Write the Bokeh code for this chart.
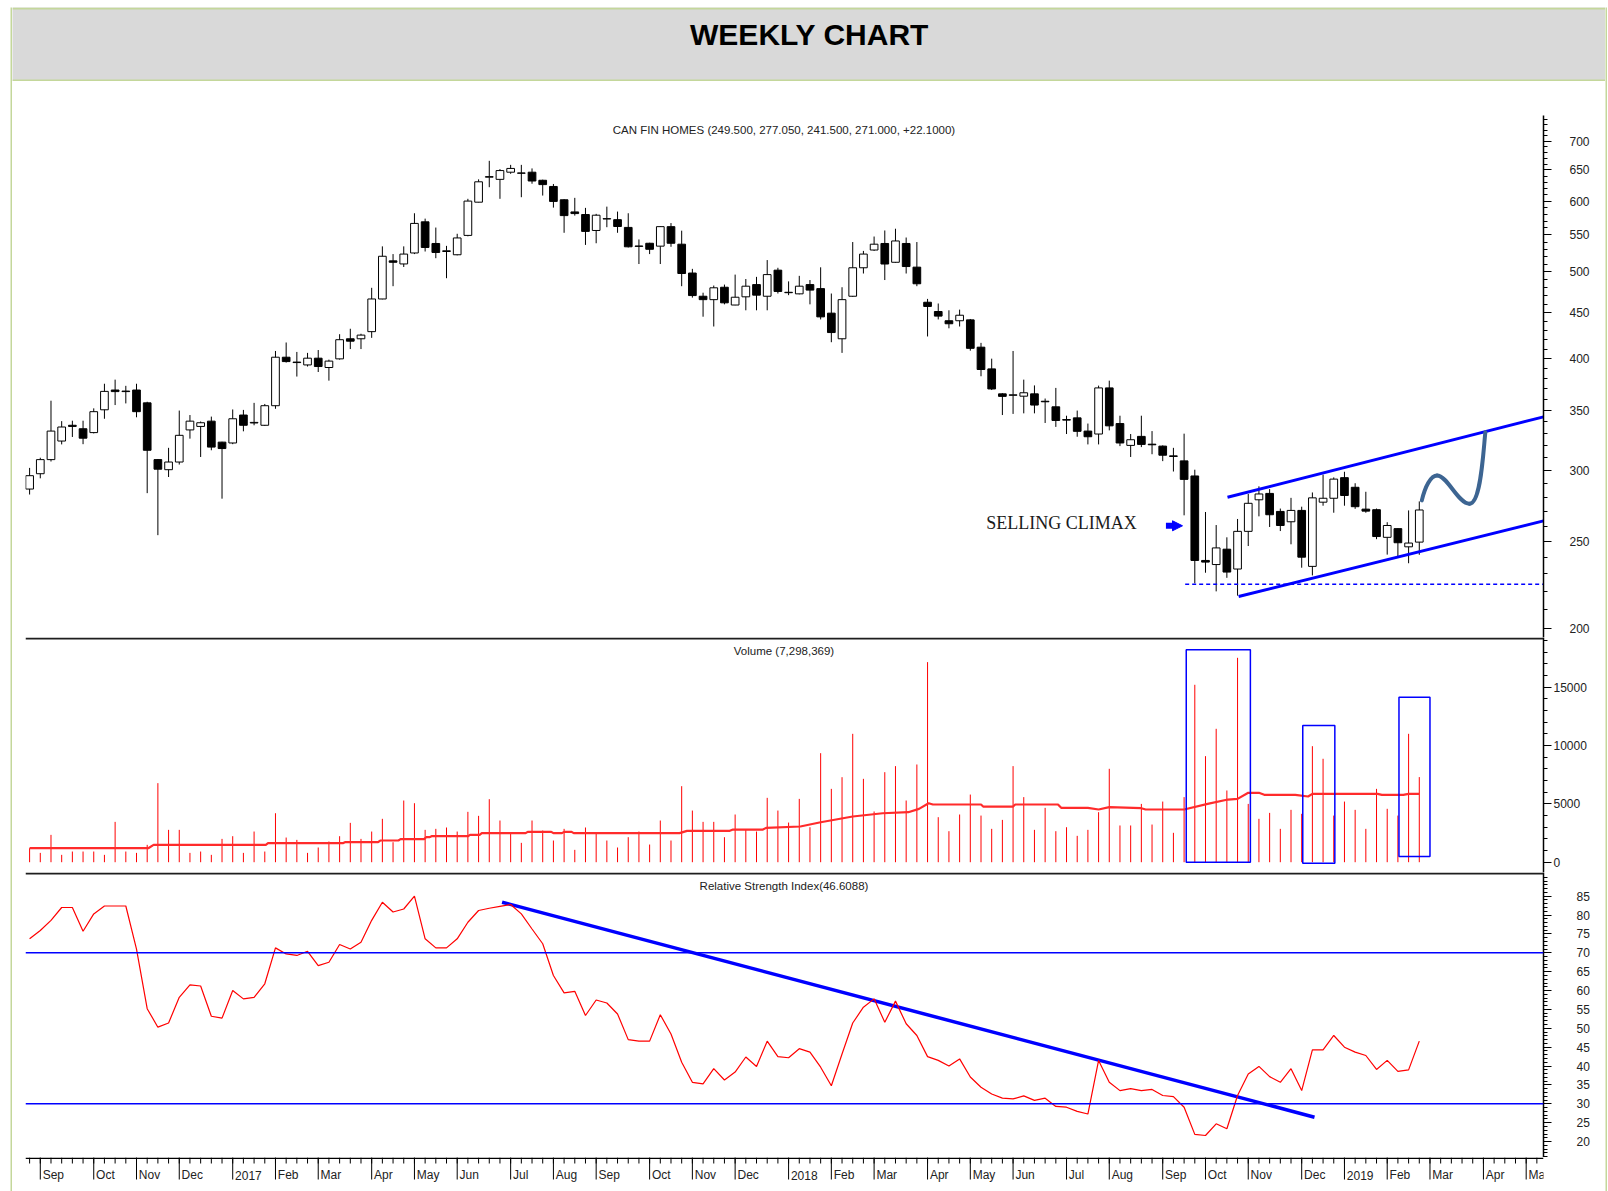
import datetime as dt
from bokeh.plotting import figure
from bokeh.layouts import column, row
from bokeh.models import (Range1d, FixedTicker, NumeralTickFormatter, Span,
                          Arrow, NormalHead, Spacer, ColumnDataSource)
from bokeh.core.properties import value
from bokeh.embed import file_html
from bokeh.resources import INLINE

# ---------------- data (weekly bars, CAN FIN HOMES) ----------------
first_bar = dt.date(2016, 8, 26)      # first weekly bar (Friday)
origin = dt.date(2016, 9, 2)          # week index 0

opens = [286, 297.5, 308.5, 323.6, 337, 334, 330.7, 350.7, 369, 368,
         369, 357, 308.5, 300.6, 306.6, 333, 336, 340.6, 322.7, 322,
         346, 339, 337, 354.4, 401.5, 396.5, 393.6, 400.5, 391, 399.8,
         421, 421, 428.8, 466.4, 514.5, 510.4, 525, 568.8, 538, 527,
         522.6, 549.3, 598.3, 638, 634.5, 646.3, 645, 646.3, 633, 623,
         602, 583.5, 579.6, 556.3, 573, 572, 560.7, 534.5, 538.3, 534.3,
         561.8, 537, 498.6, 469.7, 465.6, 480.7, 459.2, 469, 484, 469.7,
         502.3, 474.5, 472.6, 484, 479, 449.7, 421, 469.7, 505.4, 529,
         538, 512.6, 538, 506.2, 462.5, 451.6, 441, 441, 442, 412,
         389.6, 365.4, 364, 363.2, 365.4, 358.5, 353.4, 342, 343.5, 332,
         329.5, 371, 338.5, 320, 327.5, 321, 319.4, 311.5, 307.5, 295.8,
         238, 235.5, 245, 232.8, 256.5, 278.2, 282.8, 270, 262.9, 270.7,
         234.4, 276.5, 279.3, 294.5, 287.3, 271.6, 271.2, 252.6, 258.3, 246.5,
         249.5]
highs = [302, 310, 359, 340.6, 341, 341, 352, 375, 379, 373,
         375, 358, 309, 318, 350, 346, 340.3, 344.6, 323, 351,
         350.6, 357, 356, 408, 417, 407, 406, 409, 399, 426,
         432, 426.5, 480, 534, 523.5, 534, 581.5, 573.5, 560.5, 534.7,
         551.6, 603.5, 634.5, 665.5, 651.5, 658.6, 658.6, 652.6, 634, 627,
         603, 605, 589.6, 580.6, 591.5, 584, 581.5, 543.6, 539, 562,
         567, 556, 504, 474, 482.8, 484, 496.6, 491, 493.7, 515.5,
         505.4, 488, 495, 489.7, 506, 473, 480.7, 540, 527.8, 547.7,
         556.3, 558.8, 546.3, 540, 466.5, 461, 453, 453.8, 443, 416.6,
         400, 366, 408, 379, 373.4, 361, 371, 345.4, 350, 338.5,
         373.2, 378, 345.4, 329.5, 345.4, 332, 320, 318, 329.8, 300.6,
         269.6, 260.7, 252.6, 264.8, 282.4, 288, 286, 272, 279.6, 273.3,
         283.5, 296.8, 294.7, 299, 290.3, 284, 272, 262.6, 258.5, 270.7,
         277.05]
lows = [282, 294, 307, 320.8, 327, 321, 330, 342.7, 355, 356.5,
        344, 283, 254, 295, 304.6, 325.6, 310.6, 316, 279, 321,
        331.8, 337, 336.5, 351.6, 396, 382, 392, 386.5, 378, 399,
        410, 410, 422, 466, 482, 506.4, 523.5, 527, 518, 492,
        521.8, 548, 598, 621.8, 603.5, 643.6, 606, 627.4, 608.6, 590,
        553, 578, 536, 538.3, 561, 553, 532.5, 510.3, 523.5, 510.3,
        533.4, 482, 468, 445.6, 434.5, 460, 459, 453, 453, 453,
        473, 471, 472, 460, 442.5, 417.3, 406, 469, 498, 527.8,
        489.7, 512, 498, 482, 423.5, 442.5, 432.5, 434.5, 408.3, 382.3,
        369, 346, 347, 347.5, 347.5, 339, 335.6, 329.5, 327.2, 320.8,
        320.8, 332.6, 319.4, 310.6, 318.6, 312.8, 307.3, 299.2, 267.3, 224.4,
        230.6, 219.8, 227.6, 217.4, 247, 266.6, 259.4, 256.7, 248.1, 233.6,
        229, 274, 269.1, 274, 271.8, 269.1, 251.4, 241.6, 240.1, 236.3,
        241.5]
closes = [296, 308.5, 332, 335.5, 336, 326, 349, 367.7, 367.5, 367.5,
          349, 316, 301, 306.6, 328.4, 340.6, 339.2, 318.6, 317.4, 342.7,
          337, 339.5, 354.4, 401.5, 397, 396, 400.5, 392, 397.5, 420,
          418.4, 425, 466.4, 520.6, 512.6, 523.5, 566.5, 532.5, 525.7, 528,
          545.7, 600, 630.5, 639, 649, 652.6, 644.6, 631.8, 626, 599.5,
          578, 581, 555, 578.6, 573.5, 562, 533.4, 534, 530, 561.8,
          538.3, 498, 470.5, 465.6, 480, 461.8, 468.5, 482, 471, 496.6,
          475.5, 474, 482, 477.2, 445.4, 427.8, 465.6, 505.4, 523.5, 537,
          510.3, 541.5, 507, 485, 457.5, 446.3, 437.6, 447.3, 410.8, 389,
          370, 363, 364.5, 366.4, 355, 358, 341.2, 341.5, 331.8, 327.2,
          371, 336.5, 322, 324.7, 320.8, 320.5, 312, 311, 293.2, 238,
          237, 245.8, 231, 256.5, 275.7, 282.4, 267.7, 260.4, 270.7, 240,
          279.6, 279.3, 293.4, 281.3, 273.3, 270.2, 253.1, 260.4, 249.1, 248.9,
          271]
volume_k = [1200, 800, 2345, 630, 915, 915, 915, 630, 3460, 915,
            800, 1490, 6780, 2775, 2775, 800, 915, 630, 2000, 2230,
            800, 2630, 915, 4200, 2115, 1915, 800, 1260, 1775, 2230,
            3375, 2000, 2630, 3720, 1715, 5290, 5060, 2775, 2860, 2975,
            2630, 4320, 3975, 5405, 3575, 2430, 1660, 3575, 2715, 1860,
            2860, 1060, 2975, 2430, 1860, 1260, 2145, 2630, 1515, 3575,
            1860, 6520, 4430, 3460, 3460, 2145, 4090, 2775, 2630, 5520,
            4430, 3400, 5430, 3000, 9350, 6290, 7290, 11010, 7150, 4350,
            7720, 8240, 5290, 8380, 17160, 3860, 2660, 4090, 5800, 4000,
            2860, 3630, 8240, 5580, 2775, 4660, 2660, 3000, 2260, 2775,
            4290, 8010, 3150, 3150, 5000, 3230, 5200, 2520, 5580, 15215,
            9095, 11440, 6150, 17530, 5000, 3720, 4230, 2860, 4490, 4150,
            9950, 8870, 4000, 5200, 4490, 2860, 6290, 4580, 4000, 11010,
            7298]
rsi_values = [73.7, 75.9, 78.6, 82, 82, 75.7, 80.3, 82.4, 82.4, 82.4,
              71.0, 55.2, 50.3, 51.4, 58.2, 61.5, 61.2, 53.2, 52.7, 60,
              57.8, 58.2, 61.8, 71.3, 69.7, 69.3, 70.4, 66.6, 67.5, 72.2,
              71.0, 72.8, 78.6, 83.4, 80.8, 81.6, 85, 73.7, 71.3, 71.3,
              73.7, 78.1, 81.2, 81.8, 82.3, 82.8, 80.3, 76.3, 72.4, 64,
              59.4, 59.8, 53.4, 57.5, 56.7, 53.8, 47, 46.6, 46.6, 53.6,
              48.5, 41, 35.7, 35.3, 39.3, 36.3, 38.4, 42.4, 39.9, 46.6,
              42.5, 42.2, 44.6, 43.7, 39.7, 34.8, 43.2, 51.4, 55.6, 57.8,
              51.6, 57.2, 51.2, 48.1, 42.5, 41.5, 40, 41.9, 37.1, 34.4,
              32.6, 31.5, 31.3, 32.1, 30.9, 31.5, 29.3, 29.1, 28.0, 27.3,
              41.5, 35.7, 33.5, 34, 33.5, 33.8, 32.2, 31.9, 29.1, 21.9,
              21.6, 24.7, 23.4, 32.2, 37.9, 39.9, 37.2, 35.7, 39.3, 33.5,
              44.3, 44.3, 48.1, 45, 43.7, 42.8, 39.1, 41.5, 38.6, 39,
              46.6088]
# volume moving average (week index, thousands)
vol_avg_week = [-1, 10.1, 10.6, 21.1, 21.3, 28.3, 28.5, 31.6, 31.8, 33.5,
                33.7, 35.9, 36.1, 36.4, 36.6, 40, 40.2, 41.1, 41.3, 45.4,
                45.6, 47.8, 48, 48.8, 49, 49.7, 49.9, 59.8, 60.5, 64.5,
                64.8, 67.6, 67.9, 71.1, 73, 76, 78.8, 81.2, 82.2, 83.1,
                83.5, 88, 88.2, 91, 91.2, 95.2, 95.5, 98, 99, 100,
                103, 103.4, 107, 109.2, 111.1, 112, 113, 114, 114.5, 117.4,
                118.6, 119, 125.1, 125.5, 127.5, 128, 129]
vol_avg_k = [1200, 1200, 1490, 1490, 1630, 1630, 1715, 1715, 1860, 1860,
             1975, 1975, 2145, 2145, 2230, 2230, 2345, 2345, 2490, 2490,
             2600, 2600, 2490, 2490, 2600, 2600, 2490, 2490, 2690, 2690,
             2800, 2800, 2945, 3060, 3430, 3920, 4200, 4290, 4575, 5060,
             4950, 4950, 4775, 4775, 4950, 4950, 4660, 4660, 4520, 4720,
             4630, 4520, 4520, 5005, 5375, 5430, 5950, 5950, 5780, 5780,
             5635, 5860, 5860, 5780, 5780, 5860, 5860]

price_ticks = [200, 250, 300, 350, 400, 450, 500, 550, 600, 650, 700]
volume_ticks = [0, 5000, 10000, 15000]
rsi_ticks = [20, 25, 30, 35, 40, 45, 50, 55, 60, 65, 70, 75, 80, 85]

price_title = "CAN FIN HOMES (249.500, 277.050, 241.500, 271.000, +22.1000)"
volume_title = "Volume (7,298,369)"
rsi_title = "Relative Strength Index(46.6088)"

# annotations (week index, value)
upper_channel = ([111.06, 140.62], [280.0, 344.4])
lower_channel = ([112.1, 140.62], [216.9, 263.5])
support_line = ([107.1, 140.62], [223.8, 223.8])
rsi_trend = ([43.2, 119.2], [83.4, 26.45])
vol_boxes = dict(left=[107.2, 118.1, 127.1], right=[113.2, 121.1, 130.0],
                 bottom=[0, -86, 489], top=[18216, 11724, 14151])

n = len(closes)
assert len(opens) == n and len(highs) == n and len(lows) == n
assert len(volume_k) == n and len(rsi_values) == n
assert len(vol_avg_week) == len(vol_avg_k)

dates = [first_bar + dt.timedelta(weeks=k) for k in range(n)]
xw = [(d - origin).days / 7.0 for d in dates]

# ---------------- styling ----------------
FONT = "Liberation Sans"
GREEN = "#c4d79b"
BLUE = "#0000ff"
RED = "#ff0000"
INK = "#222222"
SEP = "#1e1e1e"
LEFT, RIGHT, FRAME_W = 13, 62, 1518
xr = Range1d(-1.384, 140.62)


def panel(h, yr, ytype="linear", top=0):
    p = figure(frame_width=FRAME_W, frame_height=h, x_range=xr, y_range=yr,
               y_axis_type=ytype, x_axis_location=None, y_axis_location="right",
               toolbar_location=None, output_backend="svg",
               min_border_left=LEFT, min_border_right=RIGHT,
               min_border_top=top, min_border_bottom=0)
    p.outline_line_color = None
    p.grid.visible = False
    p.background_fill_color = "white"
    p.border_fill_color = "white"
    ax = p.yaxis[0]
    ax.axis_line_color = "black"
    ax.axis_line_width = 1.5
    ax.major_tick_line_color = "black"
    ax.minor_tick_line_color = "black"
    ax.major_tick_in = 0
    ax.major_tick_out = 8
    ax.minor_tick_in = 0
    ax.minor_tick_out = 4
    ax.major_label_text_font = FONT
    ax.major_label_text_font_size = "12px"
    ax.major_label_text_color = INK
    ax.formatter = NumeralTickFormatter(format="0")
    return p


def plain(w, h, bg, xrange=None, yrange=None):
    f = figure(frame_width=w, frame_height=h, x_axis_location=None, y_axis_location=None,
               toolbar_location=None, output_backend="svg",
               min_border_left=0, min_border_right=0, min_border_top=0, min_border_bottom=0,
               x_range=xrange if xrange is not None else Range1d(0, 1),
               y_range=yrange if yrange is not None else Range1d(0, 1))
    f.background_fill_color = bg
    f.border_fill_color = bg
    f.outline_line_color = None
    f.grid.visible = False
    return f


# ---------------- header ----------------
hd = plain(1593, 74, "#d9d9d9", xrange=Range1d(0, 1593), yrange=Range1d(74, 0))
hd.quad(left=[0, 0], right=[1593, 1593], top=[0, 72], bottom=[2, 74],
        fill_color=GREEN, line_color=None)
hd.text(x=[797], y=[27], text=["WEEKLY CHART"], text_font=value(FONT),
        text_font_size="30px", text_font_style="bold", text_color="black",
        text_align="center", text_baseline="middle")

# ---------------- price panel ----------------
pp = panel(522, Range1d(195.2, 747.8), "log", top=34)
pp.yaxis[0].ticker = FixedTicker(ticks=price_ticks, minor_ticks=list(range(190, 750, 10)))
pp.yaxis[0].major_label_standoff = 18

src = ColumnDataSource(dict(
    x=xw, h=highs, l=lows,
    top=[max(o, c) for o, c in zip(opens, closes)],
    bot=[min(o, c) for o, c in zip(opens, closes)],
    fill=["white" if c >= o else "black" for o, c in zip(opens, closes)]))
pp.segment(x0="x", y0="h", x1="x", y1="l", source=src, line_color="black", line_width=1)
pp.vbar(x="x", width=0.72, top="top", bottom="bot", fill_color="fill",
        line_color="black", line_width=1, source=src)

pp.line(upper_channel[0], upper_channel[1], line_color=BLUE, line_width=3)
pp.line(lower_channel[0], lower_channel[1], line_color=BLUE, line_width=3)
pp.line(support_line[0], support_line[1], line_color=BLUE, line_width=1.5, line_dash="4 3")

# projected path
pp.bezier(x0=[129.24, 130.66, 133.71], y0=[277.8, 296.2, 275.4],
          x1=[130.66, 133.71, 135.18], y1=[296.2, 275.4, 331.0],
          cx0=[129.54, 131.63, 134.76], cy0=[287.9, 296.2, 275.8],
          cx1=[130.08, 132.67, 134.97], cy1=[296.2, 274.9, 313.3],
          line_color="#3d6592", line_width=4, line_cap="round")

pp.text(x=[88.5], y=[261.8], text=["SELLING CLIMAX"], text_font=value("Liberation Serif"),
        text_font_size="18px", text_color="#1a1a1a", text_align="left", text_baseline="middle")
pp.add_layout(Arrow(end=NormalHead(size=10, fill_color=BLUE, line_color=BLUE, line_width=1),
                    x_start=105.3, y_start=260.2, x_end=106.85, y_end=260.2,
                    line_color=BLUE, line_width=6))
pp.text(x=[69.57], y=[721], text=[price_title], text_font=value(FONT),
        text_font_size="11.5px", text_color=INK, text_align="center", text_baseline="middle")

# ---------------- volume panel ----------------
pv = panel(235, Range1d(-883, 19271))
pv.yaxis[0].ticker = FixedTicker(ticks=volume_ticks, minor_ticks=list(range(0, 19001, 1000)))
pv.yaxis[0].major_label_standoff = 2
pv.add_layout(Span(location=19185, dimension="width", line_color=SEP, line_width=2))
pv.segment(x0=xw, y0=[0] * n, x1=xw, y1=volume_k, line_color=RED, line_width=1)
pv.line(vol_avg_week, vol_avg_k, line_color="#ff2b2b", line_width=2.2)
pv.quad(left=vol_boxes["left"], right=vol_boxes["right"], bottom=vol_boxes["bottom"],
        top=vol_boxes["top"], fill_color=None, line_color=BLUE, line_width=1.5)
pv.text(x=[69.57], y=[18150], text=[volume_title], text_font=value(FONT),
        text_font_size="11.5px", text_color=INK, text_align="center", text_baseline="middle")

# ---------------- RSI panel ----------------
pr = panel(285, Range1d(15.78, 91.27))
pr.yaxis[0].ticker = FixedTicker(ticks=rsi_ticks, minor_ticks=list(range(16, 91)))
pr.yaxis[0].major_label_standoff = 25
pr.add_layout(Span(location=91.0, dimension="width", line_color=SEP, line_width=2))
pr.add_layout(Span(location=70, dimension="width", line_color=BLUE, line_width=1.5))
pr.add_layout(Span(location=30, dimension="width", line_color=BLUE, line_width=1.5))
pr.line(rsi_trend[0], rsi_trend[1], line_color=BLUE, line_width=3.5)
pr.line(xw, rsi_values, line_color=RED, line_width=1.2)
pr.text(x=[69.57], y=[87.8], text=[rsi_title], text_font=value(FONT),
        text_font_size="11.5px", text_color=INK, text_align="center", text_baseline="middle")

# ---------------- time axis strip ----------------
tick_weeks = list(range(-1, 141))
month_weeks, month_labels = [], []
for k in tick_weeks:
    d = origin + dt.timedelta(weeks=k)
    if d.day <= 7:
        month_weeks.append(k)
        month_labels.append(str(d.year) if d.month == 1 else d.strftime("%b"))

xs = figure(frame_width=FRAME_W, frame_height=34, x_range=xr, y_range=Range1d(34, 0),
            x_axis_location=None, y_axis_location=None, toolbar_location=None,
            output_backend="svg", min_border_left=LEFT, min_border_right=RIGHT,
            min_border_top=0, min_border_bottom=0)
xs.outline_line_color = None
xs.grid.visible = False
xs.segment(x0=[xr.start], y0=[0.8], x1=[xr.end], y1=[0.8], line_color="black", line_width=1.6)
xs.segment(x0=tick_weeks, y0=[0] * len(tick_weeks), x1=tick_weeks, y1=[6] * len(tick_weeks),
           line_color="black", line_width=1)
xs.segment(x0=month_weeks, y0=[0] * len(month_weeks), x1=month_weeks, y1=[22] * len(month_weeks),
           line_color="black", line_width=1)
xs.text(x=[m + 0.22 for m in month_weeks], y=[17.5] * len(month_weeks), text=month_labels,
        text_font=value(FONT), text_font_size="12px", text_color=INK,
        text_align="left", text_baseline="middle")

# ---------------- layout ----------------
g_left = plain(2, 1184, GREEN)
g_right = plain(2, 1184, GREEN)

main = column(row(hd), pp, pv, pr, xs)
layout = column(Spacer(width=1607, height=7),
                row(Spacer(width=10, height=1184), g_left, main, g_right))

open("out.html", "w").write(file_html(layout, INLINE))
